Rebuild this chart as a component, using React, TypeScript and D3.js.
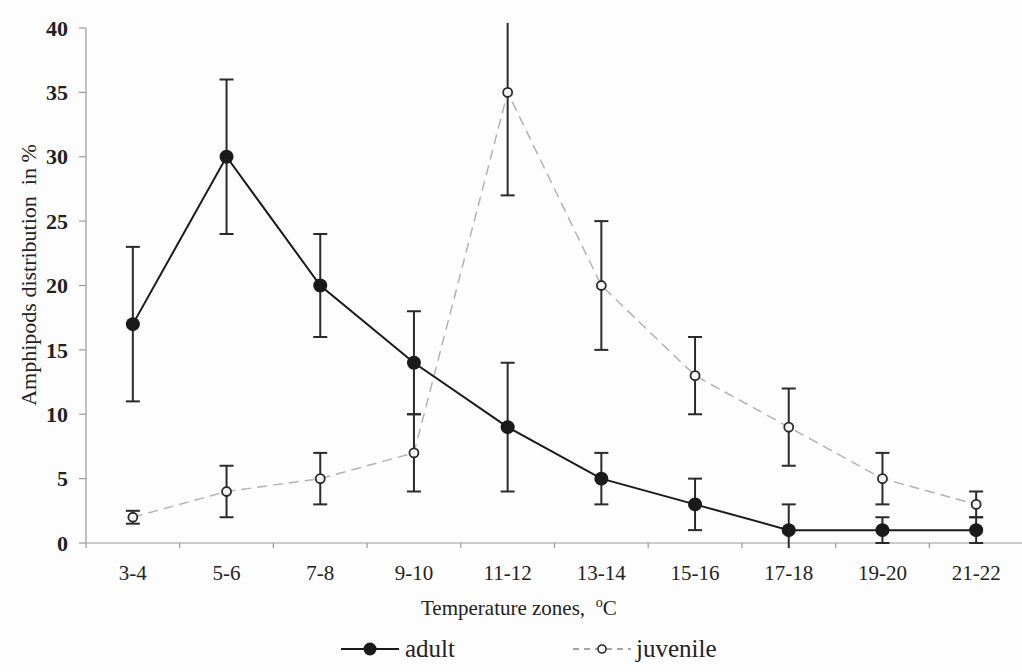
import React from "react";
import * as d3 from "d3";

const categories = ["3-4", "5-6", "7-8", "9-10", "11-12", "13-14", "15-16", "17-18", "19-20", "21-22"];
const adultMean = [17, 30, 20, 14, 9, 5, 3, 1, 1, 1];
const adultLow = [11, 24, 16, 10, 4, 3, 1, -1, 0, 0];
const adultHigh = [23, 36, 24, 18, 14, 7, 5, 3, 2, 2];
const juvMean = [2, 4, 5, 7, 35, 20, 13, 9, 5, 3];
const juvLow = [1.5, 2, 3, 4, 27, 15, 10, 6, 3, 2];
const juvHigh = [2.5, 6, 7, 10, 43, 25, 16, 12, 7, 4];
const yTicks = [0, 5, 10, 15, 20, 25, 30, 35, 40];

const W = 1022, H = 672;
const left = 86, right = 1023, top = 28, bottom = 543;
const font = "'Liberation Serif', 'Times New Roman', serif";

export default function App() {
  const x = d3.scaleBand<string>().domain(categories).range([left, right]);
  const y = d3.scaleLinear().domain([0, 40]).range([bottom, top]);
  const cx = (c: string) => (x(c) as number) + x.bandwidth() / 2;
  const yMin = -0.4, yMax = 40.4;
  const clampY = (v: number) => y(Math.max(yMin, Math.min(yMax, v)));
  const line = d3.line<number>().x((_, i) => cx(categories[i])).y((v) => y(v));
  const cap = 7;

  const errBars = (lo: number[], hi: number[], key: string) =>
    categories.map((c, i) => {
      const X = cx(c);
      return (
        <g key={key + i} stroke="#2a2a2a" strokeWidth={2}>
          <line x1={X} x2={X} y1={clampY(lo[i])} y2={clampY(hi[i])} />
          {hi[i] <= 40 && <line x1={X - cap} x2={X + cap} y1={y(hi[i])} y2={y(hi[i])} />}
          {lo[i] >= 0 && <line x1={X - cap} x2={X + cap} y1={y(lo[i])} y2={y(lo[i])} />}
        </g>
      );
    });

  const boundaries = categories.map((c) => x(c) as number).concat([right]);

  return (
    <svg width={W} height={H} style={{ position: "absolute", left: 0, top: 0, background: "#fdfdfd", fontFamily: font }}>
      {/* y axis */}
      <line x1={left} x2={left} y1={top} y2={bottom} stroke="#9a9a9a" strokeWidth={1.2} />
      {yTicks.map((t) => (
        <g key={t}>
          <line x1={left - 7} x2={left} y1={y(t)} y2={y(t)} stroke="#9a9a9a" strokeWidth={1.2} />
          <text x={68} y={y(t)} dy="0.35em" textAnchor="end" fontSize={22} fontWeight="bold" fill="#222" style={{ fontFamily: font }}>
            {t}
          </text>
        </g>
      ))}
      {/* x axis */}
      <line x1={left} x2={right} y1={bottom} y2={bottom} stroke="#9a9a9a" strokeWidth={1.2} />
      {boundaries.map((b, i) => (
        <line key={"xb" + i} x1={b} x2={b} y1={bottom} y2={bottom + 5} stroke="#9a9a9a" strokeWidth={1.2} />
      ))}
      {categories.map((c) => (
        <text key={c} x={cx(c)} y={580} textAnchor="middle" fontSize={21} fill="#222" style={{ fontFamily: font }}>
          {c}
        </text>
      ))}
      <text x={421} y={615} textAnchor="start" fontSize={21} fill="#222" style={{ fontFamily: font }}>
        Temperature zones,{"\u00a0\u00a0"}
        <tspan fontSize={14} dy={-8}>o</tspan>
        <tspan dy={8}>C</tspan>
      </text>
      <text transform={`translate(36,275) rotate(-90)`} textAnchor="middle" fontSize={22} fill="#222" style={{ fontFamily: font }}>
        Amphipods distribution{"\u00a0\u00a0"}in %
      </text>

      {/* juvenile */}
      <path d={line(juvMean) || ""} fill="none" stroke="#b3b3b3" strokeWidth={1.5} strokeDasharray="10,6" />
      {errBars(juvLow, juvHigh, "j")}
      {categories.map((c, i) => (
        <circle key={"jc" + i} cx={cx(c)} cy={y(juvMean[i])} r={4.5} fill="#f4f4f4" stroke="#2a2a2a" strokeWidth={1.8} />
      ))}

      {/* adult */}
      <path d={line(adultMean) || ""} fill="none" stroke="#1a1a1a" strokeWidth={2} />
      {errBars(adultLow, adultHigh, "a")}
      {categories.map((c, i) => (
        <circle key={"ac" + i} cx={cx(c)} cy={y(adultMean[i])} r={7} fill="#1a1a1a" />
      ))}

      {/* legend */}
      <line x1={341} x2={399} y1={649} y2={649} stroke="#1a1a1a" strokeWidth={2} />
      <circle cx={370} cy={649} r={6.5} fill="#1a1a1a" />
      <text x={405} y={657} fontSize={25} fill="#222" style={{ fontFamily: font }}>adult</text>
      <line x1={573} x2={631} y1={649} y2={649} stroke="#888" strokeWidth={1.5} strokeDasharray="6,5" />
      <circle cx={602} cy={649} r={4} fill="#f4f4f4" stroke="#2a2a2a" strokeWidth={1.6} />
      <text x={636} y={657} fontSize={25} fill="#222" style={{ fontFamily: font }}>juvenile</text>
    </svg>
  );
}
